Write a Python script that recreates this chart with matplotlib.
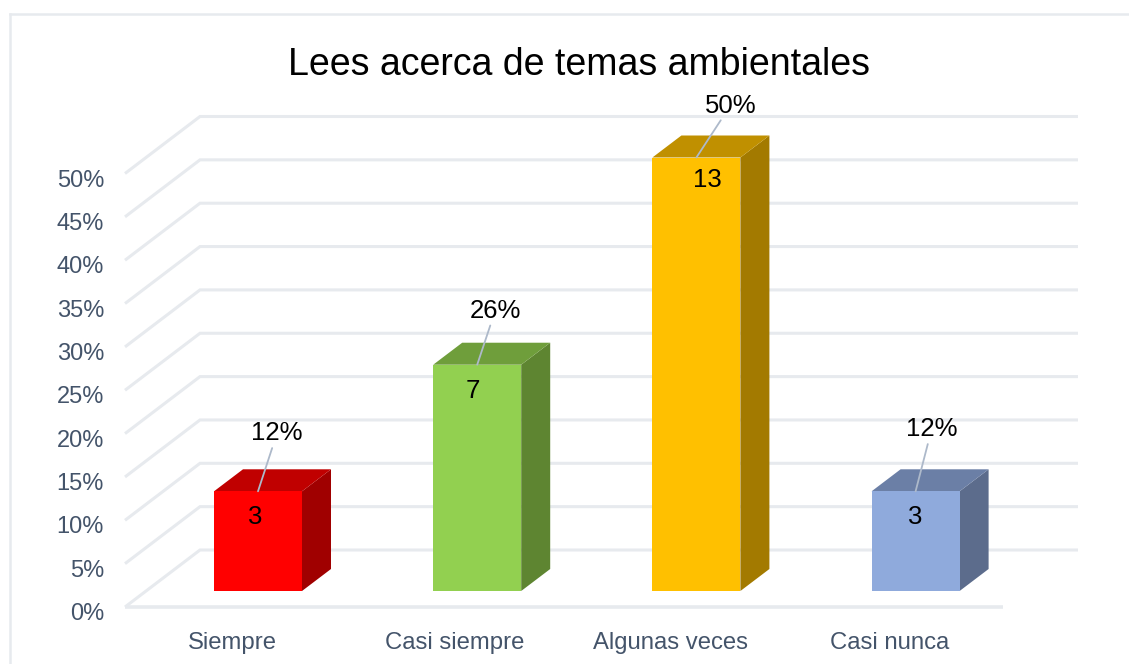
import matplotlib
matplotlib.use("Agg")
import matplotlib.pyplot as plt
from matplotlib.patches import Polygon, Rectangle
from matplotlib.lines import Line2D

categories = ["Siempre", "Casi siempre", "Algunas veces", "Casi nunca"]
heights_pct = [11.5, 26.1, 50.0, 11.5]
counts = ["3", "7", "13", "3"]
pct_labels = ["12%", "26%", "50%", "12%"]
y_ticks = [0, 5, 10, 15, 20, 25, 30, 35, 40, 45, 50]

front_colors = ["#FF0000", "#92D050", "#FFC000", "#8FAADC"]
top_colors = ["#C00000", "#6F9E3B", "#C09000", "#6B7FA6"]
side_colors = ["#A00000", "#5E8531", "#A37A00", "#5C6C8C"]
GRID = "#E7EAEE"
TXT = "#44546A"
LEAD = "#ADB9CA"

W, H = 1129, 664
PX_PER_PCT = 8.67
PX_PER_CAT = 219.2
Y0_BAR, Y0_FLOOR_F, Y0_FLOOR_B = 591, 607, 550
X0_LABEL = 232

plt.rcParams["font.family"] = ["Liberation Sans", "DejaVu Sans"]
fig = plt.figure(figsize=(W / 100, H / 100), dpi=100, facecolor="white")
ax = fig.add_axes([0, 0, 1, 1])
ax.set_xlim(-X0_LABEL / PX_PER_CAT, (W - X0_LABEL) / PX_PER_CAT)
ax.set_ylim((Y0_BAR - H) / PX_PER_PCT, Y0_BAR / PX_PER_PCT)
ax.axis("off")

def px(x):
    return (x - X0_LABEL) / PX_PER_CAT

def val(y):
    return (Y0_BAR - y) / PX_PER_PCT

dep_x = 29 / PX_PER_CAT
dep_y = 22 / PX_PER_PCT
bar_w = 88 / PX_PER_CAT
bar_shift = 26 / PX_PER_CAT

# walls / gridlines
front_off = val(Y0_FLOOR_F)
back_off = val(Y0_FLOOR_B)
x_fl, x_fr = px(125), px(1003)
x_bl, x_br = px(200), px(1078)
for t in y_ticks:
    yf, yb = front_off + t, back_off + t
    ax.plot([x_fl, x_bl, x_br], [yf, yb, yb], color=GRID, lw=2.2, zorder=1,
            solid_joinstyle="miter", solid_capstyle="butt")
ax.plot([x_fl, x_fr], [front_off, front_off], color=GRID, lw=2.6, zorder=1,
        solid_capstyle="butt")
for t in y_ticks:
    ax.text(px(104), front_off + t - 7 / PX_PER_PCT, f"{t}%", ha="right", va="center",
            fontsize=17, color=TXT)

label_shift = [0, 3, 0, 0]
for i, name in enumerate(categories):
    ax.text(i + label_shift[i] / PX_PER_CAT, val(643), name, ha="center", va="center",
            fontsize=17.2, color=TXT)

# bars
label_off = [(19, 59), (18, 55), (34, 53), (16, 63)]
count_off = [(-3, -26), (-4, -26), (11, -22), (0, -26)]
for i, h in enumerate(heights_pct):
    c = i + bar_shift
    l, r = c - bar_w / 2, c + bar_w / 2
    ax.add_patch(Polygon([(r, 0), (r + dep_x, dep_y), (r + dep_x, h + dep_y), (r, h)],
                         fc=side_colors[i], ec="none", zorder=2))
    ax.add_patch(Polygon([(l, h), (r, h), (r + dep_x, h + dep_y), (l + dep_x, h + dep_y)],
                         fc=top_colors[i], ec="none", zorder=2))
    ax.add_patch(Rectangle((l, 0), bar_w, h, fc=front_colors[i], ec="none", zorder=3))
    dx, dy = label_off[i]
    ax.annotate(pct_labels[i], xy=(c, h), xytext=(dx, dy - 1), textcoords="offset pixels",
                ha="center", va="center", fontsize=18.5, color="black", zorder=5,
                arrowprops=dict(arrowstyle="-", color=LEAD, lw=1.3, shrinkA=0, shrinkB=0))
    ax.annotate(counts[i], xy=(c, h), xytext=count_off[i], textcoords="offset pixels",
                ha="center", va="center", fontsize=18.5, color="black", zorder=5)

# title
ax.text(px(579), val(64.5), "Lees acerca de temas ambientales", ha="center", va="center",
        fontsize=27, color="black")

# frame
for xs, ys in [((10, 10), (14, 664)), ((10, 1129), (14, 14))]:
    fig.add_artist(Line2D([x / W for x in xs], [1 - y / H for y in ys], color=GRID, lw=1.8))

fig.savefig("out.png", dpi=100)
